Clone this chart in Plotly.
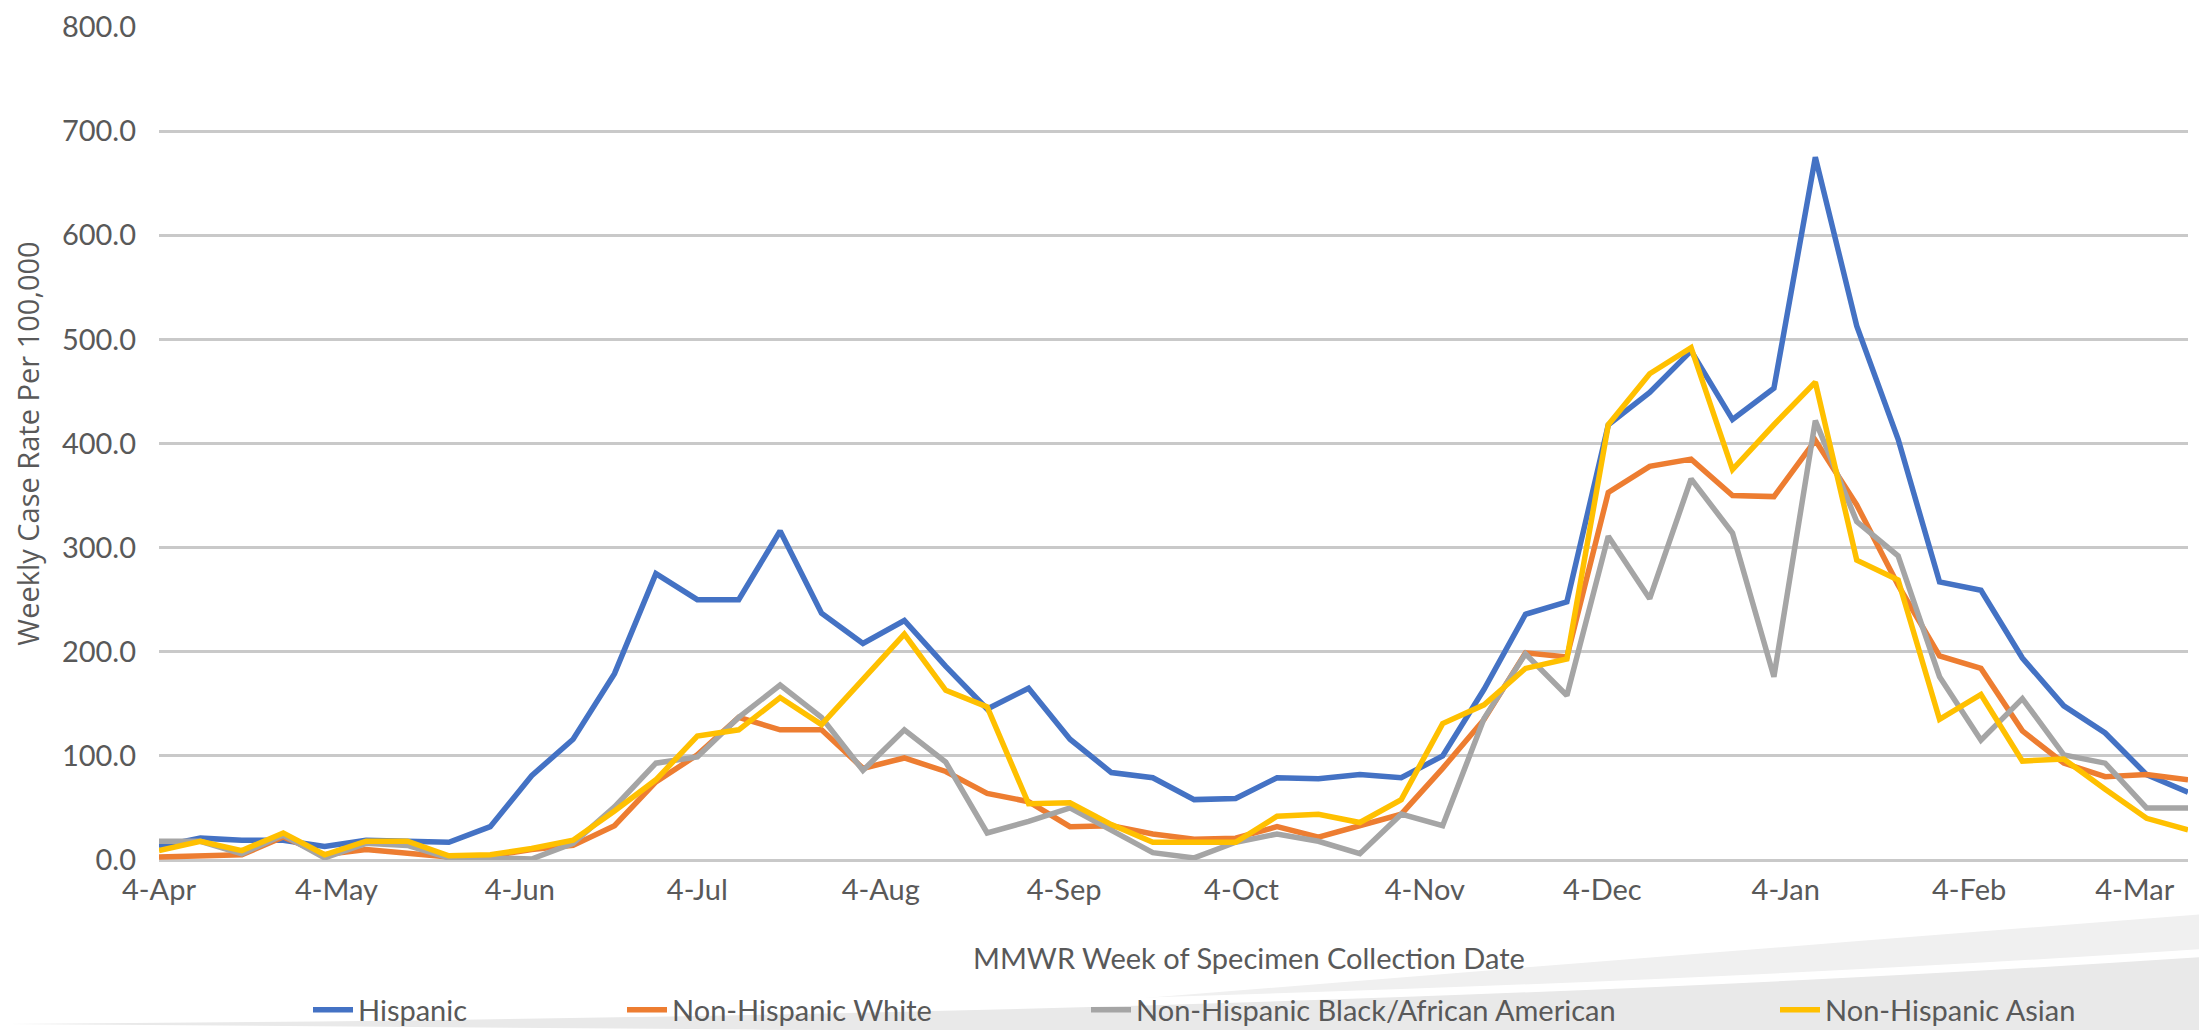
import plotly.graph_objects as go

# ---------------- data ----------------
weeks = ["2020-04-04", "2020-04-11", "2020-04-18", "2020-04-25", "2020-05-02", "2020-05-09",
         "2020-05-16", "2020-05-23", "2020-05-30", "2020-06-06", "2020-06-13", "2020-06-20",
         "2020-06-27", "2020-07-04", "2020-07-11", "2020-07-18", "2020-07-25", "2020-08-01",
         "2020-08-08", "2020-08-15", "2020-08-22", "2020-08-29", "2020-09-05", "2020-09-12",
         "2020-09-19", "2020-09-26", "2020-10-03", "2020-10-10", "2020-10-17", "2020-10-24",
         "2020-10-31", "2020-11-07", "2020-11-14", "2020-11-21", "2020-11-28", "2020-12-05",
         "2020-12-12", "2020-12-19", "2020-12-26", "2021-01-02", "2021-01-09", "2021-01-16",
         "2021-01-23", "2021-01-30", "2021-02-06", "2021-02-13", "2021-02-20", "2021-02-27",
         "2021-03-06", "2021-03-13"]

hispanic = [13, 21, 19, 19, 13, 19, 18, 17, 32, 81, 116, 179, 275, 250, 250, 316, 237, 208,
            230, 186, 145, 165, 116, 84, 79, 58, 59, 79, 78, 82, 79, 100, 164, 236, 248,
            418, 449, 489, 423, 453, 675, 513, 404, 267, 259, 194, 148, 122, 82, 65]

white = [3, 4, 5, 22, 5, 10, 6, 3, 4, 10, 14, 33, 75, 101, 137, 125, 125, 88, 98, 85, 64,
         56, 32, 33, 25, 20, 21, 32, 22, 33, 44, 88, 135, 199, 195, 353, 378, 385, 350, 349,
         403, 341, 264, 196, 184, 124, 93, 80, 82, 77]

black = [18, 18, 6, 24, 2, 16, 14, 2, 2, 1, 16, 51, 93, 99, 137, 168, 137, 86, 125, 94, 26,
         37, 50, 29, 7, 2, 17, 25, 18, 6, 44, 33, 136, 198, 158, 311, 251, 366, 314, 176,
         422, 325, 292, 176, 115, 155, 101, 93, 50, 50]

asian = [9, 18, 9, 26, 5, 18, 18, 4, 5, 11, 19, 47, 77, 119, 125, 156, 130, 173, 217, 163,
         147, 54, 55, 34, 17, 17, 17, 42, 44, 36, 58, 131, 149, 184, 193, 418, 467, 492, 375,
         418, 459, 288, 269, 135, 159, 95, 97, 68, 40, 29]

series_names = ["Hispanic", "Non-Hispanic White", "Non-Hispanic Black/African American",
                "Non-Hispanic Asian"]

tick_dates = ["2020-04-04", "2020-05-04", "2020-06-04", "2020-07-04", "2020-08-04",
              "2020-09-04", "2020-10-04", "2020-11-04", "2020-12-04", "2021-01-04",
              "2021-02-04", "2021-03-04"]
tick_labels = ["4-Apr", "4-May", "4-Jun", "4-Jul", "4-Aug", "4-Sep", "4-Oct", "4-Nov",
               "4-Dec", "4-Jan", "4-Feb", "4-Mar"]

# ---------------- style ----------------
W, H = 2207, 1030
PL, PR, PT, PB = 151, 2180, 19, 852
colors = ["#4472C4", "#ED7D31", "#A5A5A5", "#FFC000"]
font_main = "Lato"
tick_color = "#595959"


def px(x):
    return (x - PL) / (PR - PL)


def py(y):
    return (PB - y) / (PB - PT)


fig = go.Figure()
legend_ids = ["legend", "legend2", "legend3", "legend4"]
for name, vals, col, lg in zip(series_names, [hispanic, white, black, asian], colors, legend_ids):
    fig.add_trace(go.Scatter(x=weeks, y=vals, name=name, mode="lines",
                             line=dict(color=col, width=5.5), legend=lg))

# background swoosh decoration (slide design)
def path(points_cmds):
    out = []
    for cmd, pts in points_cmds:
        out.append(cmd + " ".join(f"{px(x):.5f},{py(y):.5f}" for x, y in pts))
    return " ".join(out) + " Z"

shapes = [
    dict(type="path", xref="paper", yref="paper", layer="below", line=dict(width=0),
         fillcolor="#F0F0F0",
         path=path([("M", [(620, 1032)]), ("Q", [(1500, 960), (2210, 905)]),
                    ("L", [(2210, 1032)])])),
    dict(type="path", xref="paper", yref="paper", layer="below", line=dict(width=0),
         fillcolor="#FFFFFF",
         path=path([("M", [(-5, 1008)]), ("Q", [(1300, 1001), (2210, 940)]),
                    ("L", [(2210, 1032), (-5, 1032)])])),
    dict(type="path", xref="paper", yref="paper", layer="below", line=dict(width=0),
         fillcolor="#E9E9E9",
         path=path([("M", [(-5, 1016)]), ("Q", [(1300, 1009), (2210, 948)]),
                    ("L", [(2210, 1032), (-5, 1032)])])),
]

text_starts = [346, 660, 1124, 1813]
legend_layout = {}
for lg, xs in zip(legend_ids, text_starts):
    legend_layout[lg] = dict(x=px(xs - 46), y=py(1002), xanchor="left", yanchor="middle",
                             orientation="h", bgcolor="rgba(0,0,0,0)",
                             font=dict(family=font_main, size=29, color=tick_color),
                             itemwidth=40)

fig.update_layout(
    width=W, height=H,
    margin=dict(l=PL, r=W - PR, t=PT, b=H - PB, autoexpand=False),
    paper_bgcolor="white", plot_bgcolor="white",
    showlegend=True,
    shapes=shapes,
    **legend_layout,
    xaxis=dict(type="date", range=["2020-04-04", "2021-03-13"],
               tickvals=tick_dates, ticktext=tick_labels,
               showgrid=False, showline=False, zeroline=False, ticks="",
               tickfont=dict(family=font_main, size=29, color=tick_color),
               ticklabelstandoff=10),
    yaxis=dict(range=[0, 800], dtick=100, tick0=0, tickformat=".1f",
               showgrid=True, gridcolor="#C9C9C9", gridwidth=3,
               zeroline=True, zerolinecolor="#C9C9C9", zerolinewidth=3,
               showline=False, ticks="",
               tickfont=dict(family=font_main, size=29, color=tick_color),
               ticklabelstandoff=22,
               title=dict(text="Weekly Case Rate Per 100,000",
                          font=dict(family="Open Sans", size=29, color=tick_color),
                          standoff=16)),
    annotations=[dict(text="MMWR Week of Specimen Collection Date", xref="paper", yref="paper",
                      x=px(1241), y=py(949), xanchor="center", yanchor="middle",
                      showarrow=False,
                      font=dict(family=font_main, size=29, color=tick_color))],
)

fig.write_html("out.html")
